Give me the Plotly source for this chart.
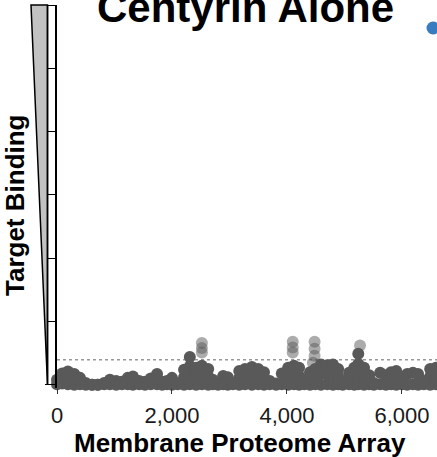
import plotly.graph_objects as go

# ---------------- data ----------------
# background proteins: position on the array and binding signal
bg_pos = [0, 90, 190, 300, 400, 500, 610, 710, 820, 920, 1030, 1130, 1230, 1320,
          1430, 1530, 1630, 1740, 1830, 1910, 2000, 2100, 2210, 2310, 2420, 2520,
          2630, 2710, 2800, 2890, 2970, 3060, 3170, 3270, 3390, 3500, 3600, 3700,
          3810, 3910, 4020, 4120, 4210, 4300, 4400, 4490, 4590, 4700, 4800, 4890,
          4970, 5080, 5170, 5240, 5340, 5430, 5510, 5620, 5720, 5810, 5900, 6000,
          6090, 6190, 6280, 6380, 6490, 6590]
bg_low = [0.01, 0.02, 0.01, 0.00, 0.01, 0.00, 0.00, 0.00, 0.01, 0.01, 0.00, 0.01,
          0.01, 0.00, 0.01, 0.00, 0.01, 0.01, 0.00, 0.01, 0.00, 0.01, 0.00, 0.01,
          0.00, 0.01, 0.00, 0.01, 0.00, 0.01, 0.00, 0.01, 0.00, 0.01, 0.00, 0.01,
          0.00, 0.01, 0.00, 0.01, 0.00, 0.01, 0.00, 0.01, 0.00, 0.01, 0.00, 0.01,
          0.00, 0.01, 0.00, 0.01, 0.00, 0.01, 0.00, 0.01, 0.00, 0.01, 0.00, 0.01,
          0.00, 0.01, 0.00, 0.01, 0.00, 0.01, 0.00, 0.01]
bg_mid = [None, None, 0.10, None, None, None, None, None, None, None, None, None,
          None, None, None, None, None, None, None, None, None, None, 0.12, 0.14,
          0.14, 0.16, 0.13, None, None, None, None, None, 0.11, 0.13, 0.15, 0.13,
          0.10, None, None, None, 0.14, 0.16, 0.14, None, 0.10, 0.13, 0.17, 0.16,
          0.17, 0.13, None, 0.10, 0.14, 0.16, 0.14, None, None, None, None, 0.10,
          0.11, None, None, None, None, None, 0.13, 0.14]
bg_mid2 = [None] * 23 + [0.29] + [None] * 29 + [0.33] + [None] * 14
bg_high = [0.08, 0.18, 0.21, 0.17, 0.11, 0.03, 0.00, 0.00, 0.03, 0.08, 0.06, 0.05,
           0.11, 0.13, 0.06, 0.05, 0.10, 0.17, 0.05, 0.06, 0.11, 0.02, 0.24, 0.44,
           0.27, 0.30, 0.25, 0.08, 0.03, 0.14, 0.12, 0.03, 0.22, 0.25, 0.28, 0.25,
           0.20, 0.06, 0.02, 0.18, 0.27, 0.30, 0.27, 0.08, 0.20, 0.25, 0.32, 0.31,
           0.32, 0.25, 0.03, 0.19, 0.27, 0.49, 0.27, 0.15, 0.03, 0.19, 0.15, 0.20,
           0.22, 0.10, 0.17, 0.19, 0.17, 0.06, 0.25, 0.27]

# proteins standing out above the background
hit_pos = [2520, 2520, 2520, 4100, 4100, 4100, 4480, 4480, 4480, 4450, 5270]
hit_binding = [0.66, 0.58, 0.51, 0.68, 0.59, 0.51, 0.68, 0.57, 0.46, 0.35, 0.62]

threshold = 0.395
x_ticks = [0, 2000, 4000, 6000]
y_ticks = [0, 1, 2, 3, 4, 5, 6]

# ---------------- figure ----------------
X_RANGE = [0, 6609]
Y_RANGE = [-0.05, 6]
W, H = 437, 457
ML, MR, MT, MB = 57, 0, 5, 69
plot_w = W - ML - MR
plot_h = H - MT - MB


def px_to_paper_x(px):
    return (px - ML) / plot_w


def py_to_paper_y(py):
    return (H - MB - py) / plot_h


def data_to_paper_y(v):
    return (v - Y_RANGE[0]) / (Y_RANGE[1] - Y_RANGE[0])


FONT = "Liberation Sans, Arial, sans-serif"
band_color = "#595959"

xs, ys = [], []
for arr in (bg_low, bg_mid, bg_mid2, bg_high):
    for p, v in zip(bg_pos, arr):
        if v is not None:
            xs.append(p)
            ys.append(v)

fig = go.Figure()
fig.add_trace(go.Scatter(
    x=xs, y=ys, mode="markers", cliponaxis=False, showlegend=False,
    marker=dict(size=12, color=band_color, line=dict(width=0)),
    hoverinfo="skip"))
fig.add_trace(go.Scatter(
    x=hit_pos, y=hit_binding, mode="markers", cliponaxis=False, showlegend=False,
    marker=dict(size=12, color=band_color, opacity=0.5, line=dict(width=0))))

shapes = []
# threshold line
shapes.append(dict(type="line", xref="paper", yref="y", x0=0, x1=1,
                   y0=threshold, y1=threshold, layer="below",
                   line=dict(color="#666666", width=1, dash="dot")))
# grey wedge next to the axis
y0p = data_to_paper_y(0)
y6p = data_to_paper_y(6)
xl = px_to_paper_x(31)
xm = px_to_paper_x(47.5)
shapes.append(dict(type="path", xref="paper", yref="paper",
                   path=f"M {xl},{y6p} L {xm},{y6p} L {xm},{y0p} Z",
                   fillcolor="#c2c2c2", line=dict(color="black", width=1.5)))
# left border of the white axis bar
shapes.append(dict(type="line", xref="paper", yref="paper", x0=xm, x1=xm,
                   y0=y0p, y1=y6p, line=dict(color="black", width=1.5)))
# partially visible legend marker
cx, cy, r = px_to_paper_x(433), py_to_paper_y(28), 6.5
shapes.append(dict(type="circle", xref="paper", yref="paper",
                   x0=cx - r / plot_w, x1=cx + r / plot_w,
                   y0=cy - r / plot_h, y1=cy + r / plot_h,
                   fillcolor="#3a7cc0", line=dict(width=0)))

annotations = [
    dict(text="<b>Centyrin Alone</b>", xref="paper", yref="paper",
         x=px_to_paper_x(245), y=py_to_paper_y(7.8), xanchor="center",
         yanchor="middle", showarrow=False, font=dict(family=FONT, size=42, color="black")),
    dict(text="<b>Membrane Proteome Array</b>", xref="paper", yref="paper",
         x=px_to_paper_x(240), y=py_to_paper_y(443), xanchor="center",
         yanchor="middle", showarrow=False, font=dict(family=FONT, size=26, color="black")),
    dict(text="<b>Target Binding</b>", xref="paper", yref="paper", textangle=-90,
         x=px_to_paper_x(15), y=py_to_paper_y(205), xanchor="center",
         yanchor="middle", showarrow=False, font=dict(family=FONT, size=26, color="black")),
]

fig.update_layout(
    width=W, height=H, autosize=False,
    margin=dict(l=ML, r=MR, t=MT, b=MB, pad=0),
    paper_bgcolor="white", plot_bgcolor="white",
    shapes=shapes, annotations=annotations,
    font=dict(family=FONT, color="#1a1a1a"),
    xaxis=dict(range=X_RANGE, showgrid=False, zeroline=False, showline=False,
               tickvals=x_ticks, tickformat=",", ticks="outside", ticklen=5,
               tickwidth=1, tickcolor="#333333", ticklabelstandoff=3,
               tickfont=dict(family=FONT, size=22, color="#1a1a1a"), automargin=False),
    yaxis=dict(range=Y_RANGE, showgrid=False, zeroline=False, showline=True,
               linecolor="black", linewidth=1.5, tickvals=y_ticks,
               showticklabels=False, ticks="outside", ticklen=10, tickwidth=1.2,
               tickcolor="black", automargin=False),
)

fig.write_html("out.html")
